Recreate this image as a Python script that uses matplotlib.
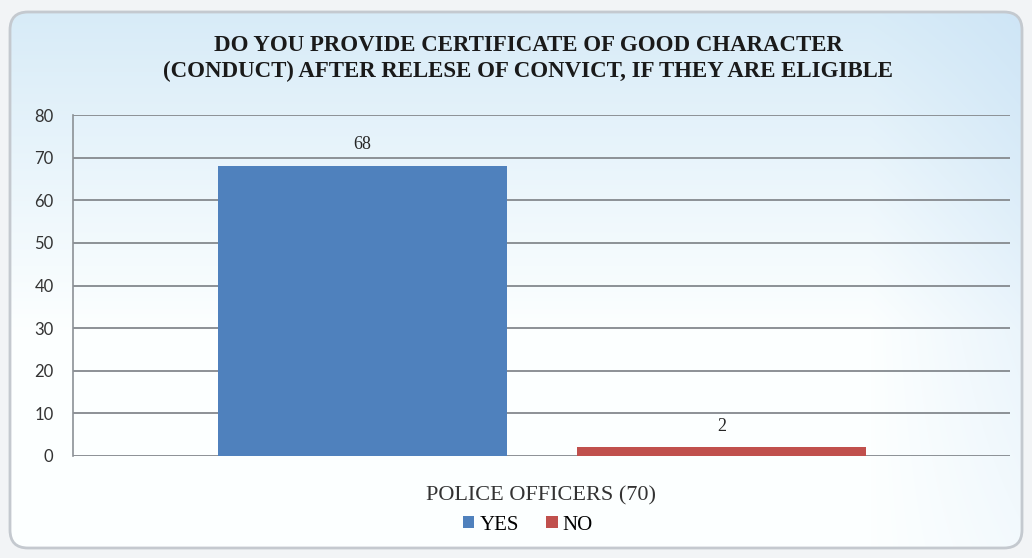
import matplotlib
matplotlib.use("Agg")
import matplotlib.pyplot as plt
import numpy as np
from matplotlib.patches import FancyBboxPatch, Patch

title = "DO YOU PROVIDE CERTIFICATE OF GOOD CHARACTER\n(CONDUCT) AFTER RELESE OF CONVICT, IF THEY ARE ELIGIBLE"
category = "POLICE OFFICERS (70)"
series = ["YES", "NO"]
values = [68, 2]
colors = ["#4f81bd", "#c0504d"]
yticks = [0, 10, 20, 30, 40, 50, 60, 70, 80]

fig = plt.figure(figsize=(10.32, 5.58), dpi=100)
fig.patch.set_facecolor("#f2f4f6")

# background panel
bg = fig.add_axes([0, 0, 1, 1], zorder=0)
bg.set_xlim(0, 1032)
bg.set_ylim(558, 0)
bg.axis("off")
yy, xx = np.mgrid[0:558, 0:1032]
t = np.clip(yy / 330.0, 0, 1)
base_top = np.array([0.84, 0.92, 0.97])
base_bot = np.array([0.99, 1.0, 1.0])
img = base_top[None, None, :] * (1 - t[..., None]) + base_bot[None, None, :] * t[..., None]
# right side blue tint
rt = np.clip((xx - 870) / 160.0, 0, 1) * (1 - 0.7 * yy / 558.0)
blue = np.array([0.78, 0.88, 0.96])
img = img * (1 - 0.6 * rt[..., None]) + blue[None, None, :] * 0.6 * rt[..., None]
im = bg.imshow(img, extent=(0, 1032, 558, 0), zorder=0, aspect="auto")
box = FancyBboxPatch((10, 12), 1012, 536, boxstyle="round,pad=0,rounding_size=18",
                     facecolor="none", edgecolor="#c4c9cf", linewidth=2.0, zorder=2)
bg.add_patch(box)
im.set_clip_path(box)

ax = fig.add_axes([73 / 1032, 1 - 456 / 558, (1010 - 73) / 1032, (456 - 115) / 558], zorder=1)
ax.patch.set_alpha(0)
ax.set_xlim(-0.5, 0.5)
ax.set_ylim(0, 80)
width = 0.308
offsets = [-0.191, 0.192]
for i, (s, v, c) in enumerate(zip(series, values, colors)):
    ax.bar(offsets[i], v, width=width, color=c, zorder=3, label=s)
    ax.text(offsets[i], v + 3, str(v), ha="center", va="bottom",
            fontsize=13, family="Liberation Serif", color="#262626")

ax.set_yticks(yticks)
ax.set_yticklabels([str(y) for y in yticks], fontsize=12, family="Lato", color="#333333")
ax.tick_params(axis="y", length=0, pad=14)
ax.set_xticks([0])
ax.set_xticklabels([category], fontsize=16, family="Liberation Serif", color="#333333")
ax.tick_params(axis="x", length=0, pad=22)
ax.grid(axis="y", color="#8c9196", linewidth=1.4, zorder=0)
for sp in ["top", "right", "bottom"]:
    ax.spines[sp].set_visible(False)
ax.spines["left"].set_color("#8c9196")
ax.spines["left"].set_linewidth(1.2)

fig.text(528 / 1032, 1 - 59 / 558, title, ha="center", va="center", fontsize=16.5,
         family="Liberation Serif", fontweight="bold", color="#1a1a1a", linespacing=1.3)

handles = [Patch(facecolor=c, label=s) for s, c in zip(series, colors)]
fig.legend(handles=handles, loc="center", bbox_to_anchor=(528 / 1032, 1 - 525 / 558), ncol=2,
           frameon=False, prop={"family": "Liberation Serif", "size": 15},
           handlelength=0.55, handleheight=0.55, handletextpad=0.25, columnspacing=1.3)

fig.savefig("out.png", dpi=100, facecolor=fig.get_facecolor())
